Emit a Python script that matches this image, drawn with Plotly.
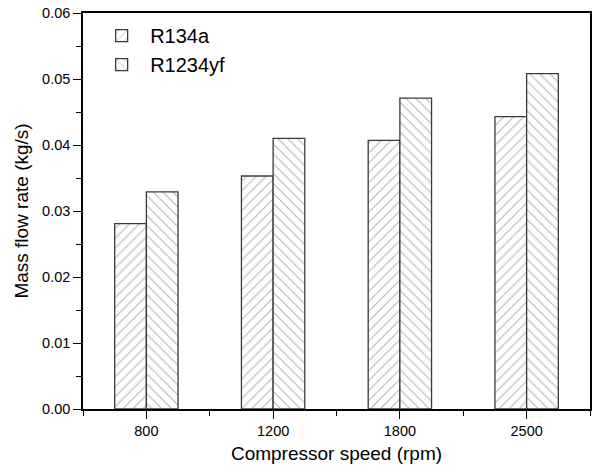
import plotly.graph_objects as go

categories = ["800", "1200", "1800", "2500"]
r134a = [0.0281, 0.0353, 0.0407, 0.0443]
r1234yf = [0.0329, 0.0410, 0.0471, 0.0508]
y_ticks = [0.00, 0.01, 0.02, 0.03, 0.04, 0.05, 0.06]

xpos = list(range(len(categories)))
FONT = "Arial, Liberation Sans, sans-serif"

fig = go.Figure()
fig.add_trace(go.Bar(
    x=xpos, y=r134a, name="R134a",
    marker=dict(color="white",
                line=dict(color="#3a3a3a", width=1.3),
                pattern=dict(shape="/", fgcolor="#666666", bgcolor="white",
                             size=7, solidity=0.15)),
))
fig.add_trace(go.Bar(
    x=xpos, y=r1234yf, name="R1234yf",
    marker=dict(color="white",
                line=dict(color="#3a3a3a", width=1.3),
                pattern=dict(shape="\\", fgcolor="#666666", bgcolor="white",
                             size=7, solidity=0.15)),
))

fig.update_layout(
    width=592, height=471,
    margin=dict(l=83, r=2, t=13, b=62, autoexpand=False),
    barmode="group", bargap=0.5, bargroupgap=0,
    plot_bgcolor="white", paper_bgcolor="white",
    font=dict(family=FONT, color="black", size=14),
    showlegend=True,
    legend=dict(x=0.02, y=0.992, xanchor="left", yanchor="top",
                font=dict(size=20, family=FONT), bgcolor="rgba(0,0,0,0)",
                traceorder="normal", itemwidth=47),
)
fig.update_xaxes(
    automargin=False,
    range=[-0.5, len(categories) - 0.5],
    tickmode="array", tickvals=xpos, ticktext=categories,
    ticks="outside", ticklen=8, tickwidth=1.3, tickcolor="black",
    showline=True, linecolor="black", linewidth=1.5, mirror=True,
    showgrid=False, zeroline=False,
    tickfont=dict(size=14.5),
    minor=dict(tickmode="linear", tick0=-0.5, dtick=1, ticks="outside",
               ticklen=5, tickwidth=1.2, tickcolor="black", showgrid=False),
    title=dict(text="Compressor speed (rpm)", font=dict(size=19), standoff=9),
)
fig.update_yaxes(
    automargin=False,
    range=[0, 0.06],
    tickmode="array", tickvals=y_ticks, ticktext=[f"{v:.2f}" for v in y_ticks],
    ticks="outside", ticklen=8, tickwidth=1.3, tickcolor="black",
    showline=True, linecolor="black", linewidth=1.5, mirror=True,
    showgrid=False, zeroline=False,
    tickfont=dict(size=14.5),
    minor=dict(tickmode="linear", tick0=0.005, dtick=0.01, ticks="outside",
               ticklen=5, tickwidth=1.2, tickcolor="black", showgrid=False),
    title=dict(text="Mass flow rate (kg/s)", font=dict(size=19), standoff=8),
)

fig.write_html(
    "out.html",
    config={"displayModeBar": False},
    post_script="document.body.style.margin='0';document.body.style.overflow='hidden';",
)
